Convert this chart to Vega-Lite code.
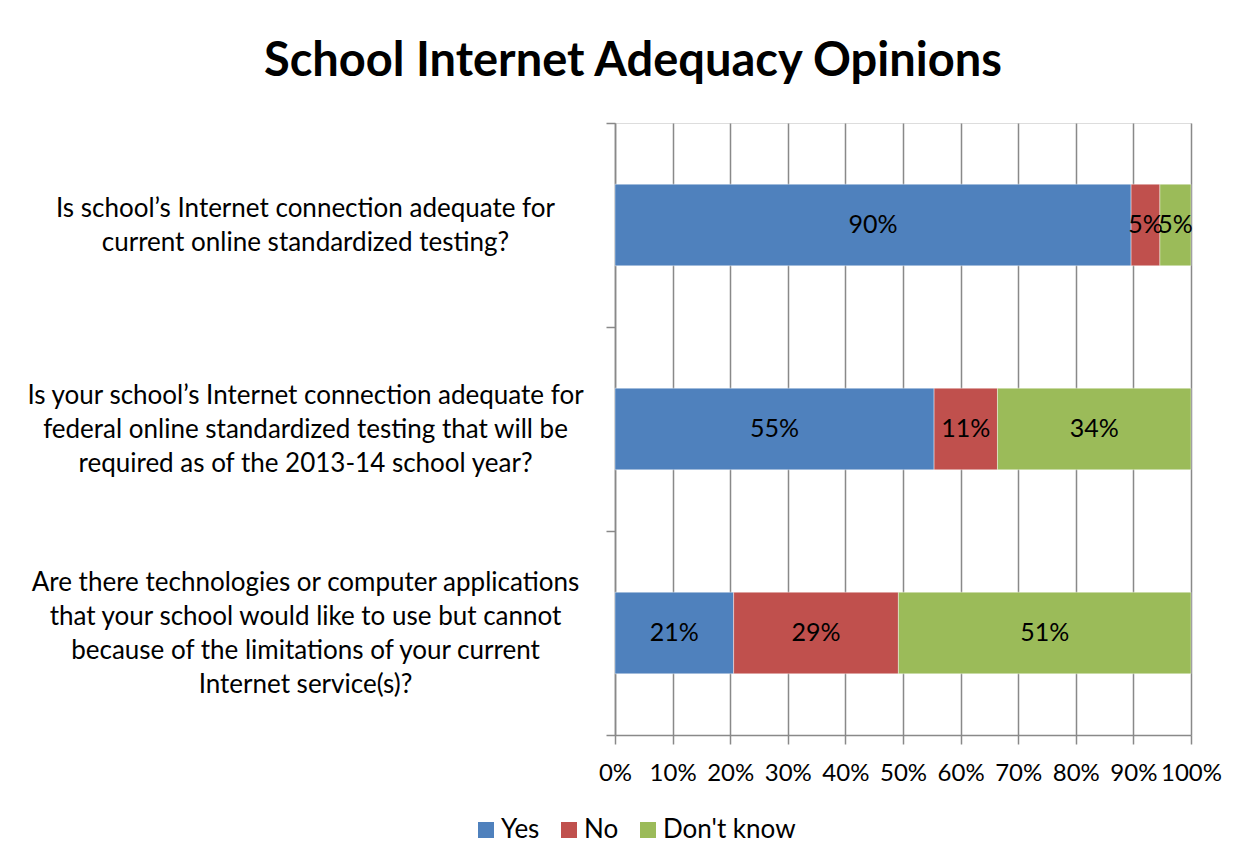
{
  "$schema": "https://vega.github.io/schema/vega-lite/v6.json",
  "autosize": {"type": "none"},
  "width": 576,
  "height": 612,
  "padding": {"left": 615, "top": 123, "right": 59, "bottom": 132},
  "background": "white",
  "title": {
    "text": "School Internet Adequacy Opinions",
    "font": "Lato",
    "fontSize": 47,
    "fontWeight": "bold",
    "color": "black",
    "anchor": "middle",
    "frame": "bounds",
    "baseline": "alphabetic",
    "offset": -13,
    "dx": 9
  },
  "data": {
    "values": [
      {"q": "Is school’s Internet connection adequate for|current online standardized testing?", "response": "Yes", "v": 0.896},
      {"q": "Is school’s Internet connection adequate for|current online standardized testing?", "response": "No", "v": 0.05},
      {"q": "Is school’s Internet connection adequate for|current online standardized testing?", "response": "Don't know", "v": 0.054},
      {"q": "Is your school’s Internet connection adequate for|federal online standardized testing that will be|required as of the 2013-14 school year?", "response": "Yes", "v": 0.554},
      {"q": "Is your school’s Internet connection adequate for|federal online standardized testing that will be|required as of the 2013-14 school year?", "response": "No", "v": 0.11},
      {"q": "Is your school’s Internet connection adequate for|federal online standardized testing that will be|required as of the 2013-14 school year?", "response": "Don't know", "v": 0.336},
      {"q": "Are there technologies or computer applications|that your school would like to use but cannot|because of the limitations of your current|Internet service(s)?", "response": "Yes", "v": 0.206},
      {"q": "Are there technologies or computer applications|that your school would like to use but cannot|because of the limitations of your current|Internet service(s)?", "response": "No", "v": 0.286},
      {"q": "Are there technologies or computer applications|that your school would like to use but cannot|because of the limitations of your current|Internet service(s)?", "response": "Don't know", "v": 0.508}
    ]
  },
  "transform": [
    {"stack": "v", "groupby": ["q"], "sort": [{"field": "response", "order": "descending"}], "as": ["v0", "v1"]},
    {"calculate": "(datum.v0 + datum.v1) / 2", "as": "vmid"}
  ],
  "encoding": {
    "y": {
      "field": "q",
      "type": "nominal",
      "sort": null,
      "scale": {"paddingInner": 0, "paddingOuter": 0},
      "axis": {
        "title": null,
        "tickBand": "extent",
        "domainColor": "#898989",
        "domainWidth": 1.5,
        "tickColor": "#898989",
        "tickWidth": 1.5,
        "tickSize": 9,
        "labelFont": "Lato",
        "labelFontSize": 26,
        "labelColor": "black",
        "labelAlign": "center",
        "labelBaseline": "middle",
        "labelLimit": 0,
        "labelLineHeight": 17,
        "labelOffset": -51,
        "labelExpr": "split(substring('\u2800|\u2800|\u2800|', 0, 2 * (4 - length(split(datum.label, '|')))) + join(split(datum.label, '|'), '|\u2800|'), '|')",
        "labelPadding": 301
      }
    }
  },
  "layer": [
    {
      "mark": {"type": "bar", "height": {"band": 0.4}, "stroke": "white", "strokeWidth": 0.6, "strokeOpacity": 0.7},
      "encoding": {
        "x": {
          "field": "v0",
          "type": "quantitative",
          "scale": {"domain": [0, 1], "nice": false},
          "axis": {
            "title": null,
            "values": [0, 0.1, 0.2, 0.3, 0.4, 0.5, 0.6, 0.7, 0.8, 0.9, 1],
            "format": ".0%",
            "grid": true,
            "gridColor": "#898989",
            "gridWidth": 1.5,
            "gridOpacity": 1,
            "domainColor": "#898989",
            "domainWidth": 1.5,
            "tickColor": "#898989",
            "tickWidth": 1.5,
            "tickSize": 9,
            "labelFont": "Lato",
            "labelFontSize": 24,
            "labelColor": "black",
            "labelPadding": 17,
            "labelOverlap": false,
            "labelFlush": false
          }
        },
        "x2": {"field": "v1"},
        "color": {
          "field": "response",
          "type": "nominal",
          "scale": {"domain": ["Yes", "No", "Don't know"], "range": ["#4F81BD", "#C0504D", "#9BBB59"]},
          "legend": {
            "title": null,
            "orient": "none",
            "direction": "horizontal",
            "legendX": -142,
            "legendY": 694,
            "symbolType": "square",
            "symbolSize": 256,
            "symbolStrokeWidth": 0,
            "labelFont": "Lato",
            "labelFontSize": 26,
            "labelColor": "black",
            "labelOffset": 2,
            "columnPadding": 16
          }
        }
      }
    },
    {
      "mark": {"type": "text", "font": "Lato", "fontSize": 25, "color": "black", "align": "center", "baseline": "middle"},
      "encoding": {
        "x": {"field": "vmid", "type": "quantitative"},
        "text": {"field": "v", "type": "quantitative", "format": ".0%"}
      }
    }
  ]
}
